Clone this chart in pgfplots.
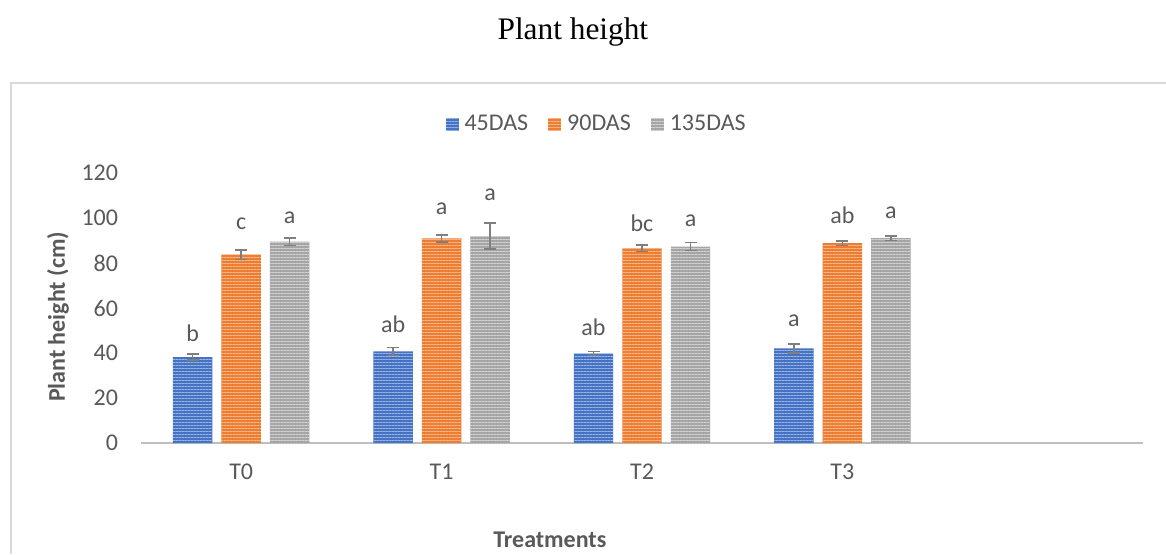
\documentclass[border=0pt]{standalone}
\usepackage{pgfplots}
\pgfplotsset{compat=1.18}
\usepackage{pgfplotstable}
\usepackage{fontspec}
\setmainfont{Carlito}
\newfontfamily\timesfont{Liberation Serif}
\usetikzlibrary{patterns.meta}
\definecolor{txt}{HTML}{595959}
\definecolor{cblue}{HTML}{4472C4}
\definecolor{lblue}{HTML}{9AB3E0}
\definecolor{corange}{HTML}{ED7D31}
\definecolor{lorange}{HTML}{F6B78C}
\definecolor{cgray}{HTML}{A5A5A5}
\definecolor{lgray}{HTML}{D2D2D2}
\definecolor{axgray}{HTML}{BFBFBF}
\definecolor{frame}{HTML}{D9D9D9}
\definecolor{errc}{HTML}{7F7F7F}

% x = bar position, y = value, e = error, ly = label baseline, lab = letter
\pgfplotstableread{
x y e ly lab
-0.242 38.2 1.4 45.0 b
0.758 40.7 1.7 49.2 ab
1.758 39.7 0.9 47.6 ab
2.758 42.1 2.0 51.7 a
}\tblA
\pgfplotstableread{
x y e ly lab
0 83.7 2.1 94.7 c
1 90.9 1.5 101.6 a
2 86.5 1.5 94.2 bc
3 88.8 1.0 97.6 ab
}\tblB
\pgfplotstableread{
x y e ly lab
0.242 89.5 1.7 97.6 a
1.242 92.0 5.8 107.7 a
2.242 87.3 1.8 96.1 a
3.242 91.1 1.0 99.6 a
}\tblC

\begin{document}
\begin{tikzpicture}
\useasboundingbox (0,0) rectangle (874.5pt,415.5pt);
\draw[frame, line width=1.5pt] (8.25pt,0pt) -- (8.25pt,353.25pt) -- (874.5pt,353.25pt);
\begin{axis}[
  at={(105.75pt,83.25pt)}, anchor=south west,
  scale only axis, width=751.5pt, height=202.5pt,
  xmin=-0.5, xmax=4.5, ymin=0, ymax=120,
  axis x line*=bottom, axis y line*=left,
  x axis line style={draw=axgray, line width=1.8pt, -},
  y axis line style={draw=none},
  major tick length=0pt,
  xtick={0,1,2,3}, xticklabels={T0,T1,T2,T3},
  ytick={0,20,...,120},
  /pgf/number format/assume math mode=true,
  tick label style={font=\fontsize{18}{21}\selectfont, text=txt},
  yticklabel style={anchor=east, inner sep=0pt, xshift=-17pt},
  xticklabel style={anchor=north, inner sep=0pt, yshift=-15.5pt},
  title={\timesfont Plant height},
  title style={at={(rel axis cs:0.431,1.465)}, anchor=base, font=\fontsize{23.5}{28}\selectfont, text=black, inner sep=0pt},
  ylabel={\bfseries Plant height (cm)},
  ylabel style={at={(rel axis cs:-0.0828,0.467)}, anchor=center, font=\fontsize{18}{21}\selectfont, text=txt},
  xlabel={\bfseries Treatments},
  xlabel style={at={(rel axis cs:0.408,-0.36)}, anchor=center, font=\fontsize{18}{21}\selectfont, text=txt},
  legend style={at={(rel axis cs:0.455,1.181)}, anchor=center, draw=none, fill=none,
    legend columns=3, font=\fontsize{18}{21}\selectfont, text=txt,
    /tikz/every even column/.append style={column sep=13pt},
    /tikz/every odd column/.append style={column sep=2.5pt},
    legend cell align=left},
  legend image code/.code={\path[#1] (0pt,-4.875pt) rectangle (9.75pt,4.875pt);},
  error bars/error bar style={color=errc, line width=1.1pt},
  error bars/error mark options={rotate=90, mark size=4.5pt, line width=1.1pt, color=errc},
  nodes near coords style={font=\fontsize{18}{21}\selectfont, text=txt},
]
\addplot[ybar, bar width=0.197, bar shift=0pt, draw=none, fill=cblue,
  postaction={pattern={Lines[angle=0, distance=2.25pt, line width=0.75pt]}, pattern color=lblue},
  error bars/.cd, y dir=both, y explicit]
  table[x=x, y=y, y error=e] {\tblA};
\addlegendentry{45DAS}
\addplot[ybar, bar width=0.197, bar shift=0pt, draw=none, fill=corange,
  postaction={pattern={Lines[angle=0, distance=2.25pt, line width=0.75pt]}, pattern color=lorange},
  error bars/.cd, y dir=both, y explicit]
  table[x=x, y=y, y error=e] {\tblB};
\addlegendentry{90DAS}
\addplot[ybar, bar width=0.197, bar shift=0pt, draw=none, fill=cgray,
  postaction={pattern={Lines[angle=0, distance=2.25pt, line width=0.75pt]}, pattern color=lgray},
  error bars/.cd, y dir=both, y explicit]
  table[x=x, y=y, y error=e] {\tblC};
\addlegendentry{135DAS}
\addplot[draw=none, mark=none, forget plot, nodes near coords, point meta=explicit symbolic,
  nodes near coords align={anchor=base}] table[x=x, y=ly, meta=lab] {\tblA};
\addplot[draw=none, mark=none, forget plot, nodes near coords, point meta=explicit symbolic,
  nodes near coords align={anchor=base}] table[x=x, y=ly, meta=lab] {\tblB};
\addplot[draw=none, mark=none, forget plot, nodes near coords, point meta=explicit symbolic,
  nodes near coords align={anchor=base}] table[x=x, y=ly, meta=lab] {\tblC};
\end{axis}
\end{tikzpicture}
\end{document}
